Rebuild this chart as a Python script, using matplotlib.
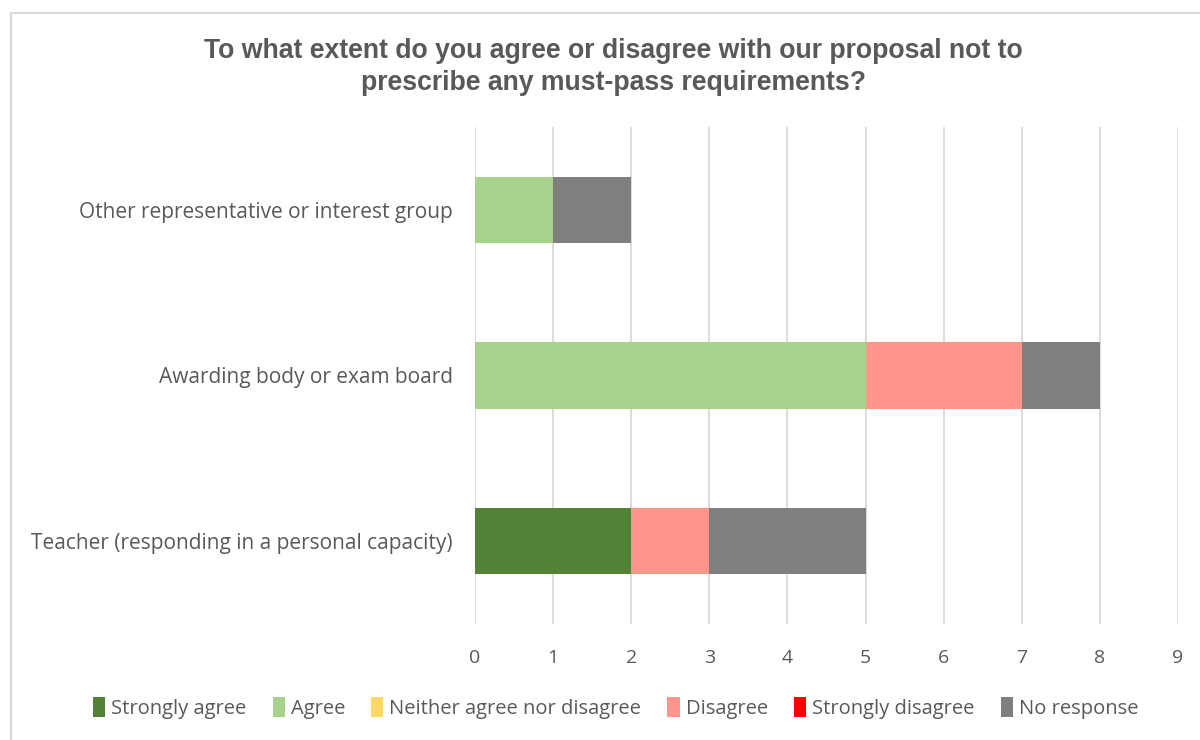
import matplotlib
matplotlib.use("Agg")
import matplotlib.pyplot as plt
from matplotlib.patches import Rectangle, Patch

# Respondent groups (drawn bottom to top)
categories = [
    "Teacher (responding in a personal capacity)",
    "Awarding body or exam board",
    "Other representative or interest group",
]
responses = ["Strongly agree", "Agree", "Neither agree nor disagree",
             "Disagree", "Strongly disagree", "No response"]

strongly_agree = [2, 0, 0]
agree = [0, 5, 1]
neither = [0, 0, 0]
disagree = [1, 2, 0]
strongly_disagree = [0, 0, 0]
no_response = [2, 1, 1]

series = [strongly_agree, agree, neither, disagree, strongly_disagree, no_response]
colors = ["#538135", "#A9D18E", "#FFD966", "#FF968C", "#FF0000", "#7F7F7F"]

title = ("To what extent do you agree or disagree with our proposal not to\n"
         "prescribe any must-pass requirements?")

W, H = 1200, 740
fig = plt.figure(figsize=(W / 100, H / 100), dpi=100)
fig.patch.set_facecolor("white")

# Chart frame (runs off the right and bottom edges)
fig.add_artist(Rectangle((11 / W, -0.05), 1.2, 1 - 13 / H + 0.05,
                         transform=fig.transFigure, fill=False,
                         edgecolor="#D9D9D9", linewidth=1.5))

ax = fig.add_axes([475 / W, 1 - 624 / H, (1178 - 475) / W, (624 - 127) / H])

y = list(range(len(categories)))
left = [0] * len(categories)
for vals, col, name in zip(series, colors, responses):
    ax.barh(y, vals, left=left, height=0.4, color=col, label=name, zorder=3)
    left = [l + v for l, v in zip(left, vals)]

ax.set_xlim(0, 9)
ax.set_ylim(-0.5, len(categories) - 0.5)
ax.set_xticks(range(0, 10))
ax.set_yticks(y)
ax.set_yticklabels(categories)
ax.grid(axis="x", color="#D9D9D9", linewidth=1.3, zorder=0)
for s in ax.spines.values():
    s.set_visible(False)
ax.tick_params(axis="both", length=0, colors="#595959")
ax.tick_params(axis="x", pad=18, labelsize=14)
ax.tick_params(axis="y", pad=16, labelsize=15)
for lbl in ax.get_xticklabels() + ax.get_yticklabels():
    lbl.set_fontfamily("Open Sans")
    lbl.set_color("#595959")

fig.text(0.511, 1 - 67 / H, title, ha="center", va="center",
         fontsize=19.2, fontweight="bold", color="#595959",
         family="Liberation Sans", linespacing=1.25)

handles = [Patch(facecolor=c, edgecolor="none") for c in colors]
fig.legend(handles, responses, loc="center", bbox_to_anchor=(0.513, 1 - 708 / H),
           ncol=6, frameon=False, handlelength=0.6, handleheight=1.1,
           handletextpad=0.3, columnspacing=1.3,
           prop={"family": "Open Sans", "size": 14.5}, labelcolor="#595959")

fig.savefig("out.png", dpi=100, facecolor="white")
